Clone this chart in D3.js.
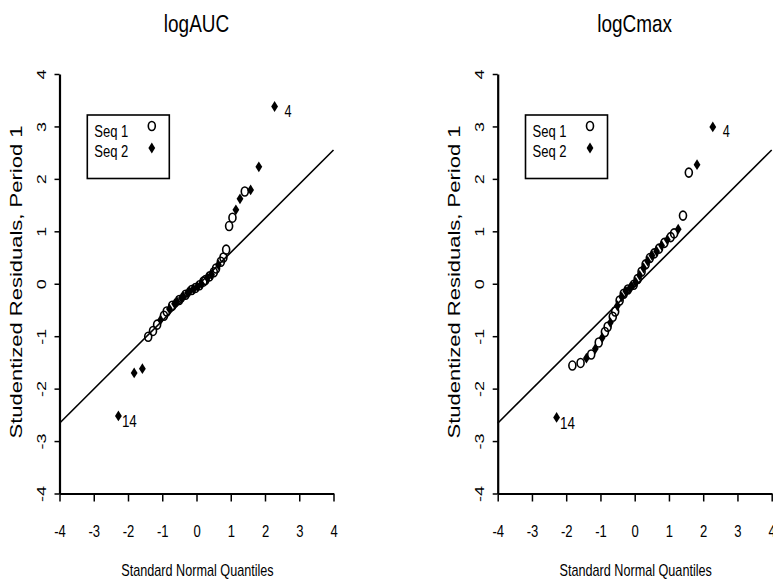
<!DOCTYPE html>
<html>
<head>
<meta charset="utf-8">
<script src="https://cdn.jsdelivr.net/npm/d3@7"></script>
<style>
  html, body { margin: 0; padding: 0; background: #fff; }
  svg { display: block; }
  text { font-family: "Liberation Sans", Arial, Helvetica, sans-serif; fill: #000; }
</style>
</head>
<body>
<svg id="chart" width="773" height="583"></svg>
<script>
// ---- data ----
const panelTitles = ["logAUC", "logCmax"];
const tickValues = [-4, -3, -2, -1, 0, 1, 2, 3, 4];
const tickLabels = ["-4", "-3", "-2", "-1", "0", "1", "2", "3", "4"];
const xTitle = "Standard Normal Quantiles";
const yTitle = "Studentized Residuals, Period 1";
const legendLabels = ["Seq 1", "Seq 2"];

// standard normal quantiles (x)
const quantiles = [-2.28,-1.82,-1.58,-1.41,-1.27,-1.15,-1.05,-0.95,-0.87,-0.79,-0.71,-0.64,-0.57,-0.505,-0.44,-0.38,-0.32,-0.26,-0.20,-0.14,-0.086,-0.029,
                   0.029,0.086,0.143,0.20,0.259,0.319,0.38,0.441,0.505,0.571,0.639,0.711,0.786,0.866,0.952,1.05,1.15,1.27,1.41,1.58,1.82,2.28];

// studentized residuals, logAUC
const residAUC = [-2.52,-1.70,-1.62,-1.01,-0.90,-0.78,-0.69,-0.61,-0.53,-0.48,-0.42,-0.38,-0.34,-0.31,-0.27,-0.25,-0.21,-0.17,-0.15,-0.12,-0.10,-0.08,
                  -0.06,-0.03,0.00,0.04,0.07,0.11,0.14,0.17,0.22,0.29,0.36,0.42,0.50,0.65,1.10,1.26,1.41,1.62,1.76,1.79,2.23,3.38];
const seqAUC = [2,2,2,1,1,1,2,1,1,2,1,2,2,1,2,2,1,2,2,1,2,1,
                2,1,2,1,1,2,1,2,1,1,2,1,1,1,1,1,2,2,1,2,2,2];

// studentized residuals, logCmax
const residCmax = [-2.55,-1.56,-1.51,-1.42,-1.35,-1.24,-1.12,-1.03,-0.92,-0.82,-0.74,-0.63,-0.53,-0.42,-0.32,-0.25,-0.19,-0.14,-0.11,-0.08,-0.05,-0.02,
                   0.03,0.09,0.16,0.23,0.30,0.37,0.43,0.49,0.54,0.58,0.62,0.67,0.73,0.78,0.84,0.89,0.96,1.04,1.30,2.12,2.27,2.99];
const seqCmax = [2,1,1,2,1,2,1,2,1,1,2,1,1,2,1,2,1,2,1,2,2,1,
                 2,1,2,1,2,1,2,1,2,1,2,1,2,1,2,1,1,2,1,1,2,2];

// labelled outliers: [index, label]
const outliersAUC = [[0, "14"], [43, "4"]];
const outliersCmax = [[0, "14"], [43, "4"]];

// reference line endpoints
const refLineX = [-4, 4];
const refLineY = [-2.66, 2.55];

// ---- drawing ----
const svg = d3.select("#chart");
const SX = 0.79; // horizontal compression of glyphs

function hText(g, x, y, str, size, anchor) {
  return g.append("text")
    .attr("transform", `translate(${x},${y}) scale(${SX},1)`)
    .attr("text-anchor", anchor || "middle")
    .attr("font-size", size)
    .text(str);
}

function diamondPath(cx, cy) {
  const w = 3.4, h = 5.4;
  return `M${cx},${cy - h}L${cx + w},${cy}L${cx},${cy + h}L${cx - w},${cy}Z`;
}

function drawMarker(g, cx, cy, seq) {
  if (seq === 1) {
    g.append("ellipse").attr("cx", cx).attr("cy", cy).attr("rx", 3.5).attr("ry", 4.5)
      .attr("fill", "none").attr("stroke", "#000").attr("stroke-width", 1.6);
  } else {
    g.append("path").attr("d", diamondPath(cx, cy)).attr("fill", "#000");
  }
}

const panels = [
  { title: panelTitles[0], x0: 59.5, resid: residAUC, seq: seqAUC, outliers: outliersAUC },
  { title: panelTitles[1], x0: 497.7, resid: residCmax, seq: seqCmax, outliers: outliersCmax }
];

panels.forEach(p => {
  const x = d3.scaleLinear().domain([-4, 4]).range([p.x0, p.x0 + 274]);
  const y = d3.scaleLinear().domain([-4, 4]).range([493.5, 74]);
  const g = svg.append("g");
  const cx = (x(-4) + x(4)) / 2;

  // title
  hText(g, cx, 32, p.title, 24);

  // x axis
  const xa = g.append("g").attr("transform", `translate(0,${y(-4)})`)
    .call(d3.axisBottom(x).tickValues(tickValues).tickFormat((d, i) => tickLabels[i])
      .tickSize(8).tickSizeOuter(0));
  xa.select(".domain").attr("stroke-width", 2.2);
  xa.selectAll(".tick line").attr("stroke-width", 1.5);
  xa.selectAll(".tick text")
    .attr("y", 43.5).attr("dy", null)
    .attr("transform", `scale(${SX},1)`)
    .attr("font-size", 16.5).attr("font-family", null);

  // y axis
  const ya = g.append("g").attr("transform", `translate(${x(-4)},0)`)
    .call(d3.axisLeft(y).tickValues(tickValues).tickFormat((d, i) => tickLabels[i])
      .tickSize(5).tickSizeOuter(0));
  ya.select(".domain").attr("stroke-width", 2.2);
  ya.selectAll(".tick line").attr("stroke-width", 1.5);
  ya.selectAll(".tick text")
    .attr("x", 0).attr("dy", null)
    .attr("transform", `translate(-18,0) rotate(-90) scale(1,0.76)`)
    .attr("text-anchor", "middle")
    .attr("dominant-baseline", "central")
    .attr("font-size", 18).attr("font-family", null);

  // axis titles
  hText(g, cx + 1, 576, xTitle, 16);
  g.append("text")
    .attr("transform", `translate(${x(-4) - 38},${282}) rotate(-90) scale(1,0.74)`)
    .attr("text-anchor", "middle")
    .attr("font-size", 22)
    .text(yTitle);

  // reference line
  g.append("path")
    .attr("d", d3.line().x(d => x(d[0])).y(d => y(d[1]))(refLineX.map((v, i) => [v, refLineY[i]])))
    .attr("fill", "none").attr("stroke", "#000").attr("stroke-width", 1.6);

  // points
  const pts = g.append("g");
  quantiles.forEach((q, i) => drawMarker(pts, x(q), y(p.resid[i]), p.seq[i]));

  // outlier labels
  p.outliers.forEach(([i, lab]) => {
    const px = x(quantiles[i]), py = y(p.resid[i]);
    if (lab === "14") hText(g, px + 3.5, py + 11.5, lab, 17, "start");
    else hText(g, px + 10, py + 10.5, lab, 16, "start");
  });

  // legend
  const lx = x(-4) + 27.8, ly = 115;
  g.append("rect").attr("x", lx).attr("y", ly).attr("width", 82).attr("height", 63.5)
    .attr("fill", "none").attr("stroke", "#000").attr("stroke-width", 1.6);
  hText(g, lx + 7, ly + 21.7, legendLabels[0], 16.5, "start");
  hText(g, lx + 7, ly + 41.7, legendLabels[1], 16.5, "start");
  drawMarker(g, lx + 64.5, ly + 11, 1);
  drawMarker(g, lx + 64.5, ly + 33, 2);
});
</script>
</body>
</html>
